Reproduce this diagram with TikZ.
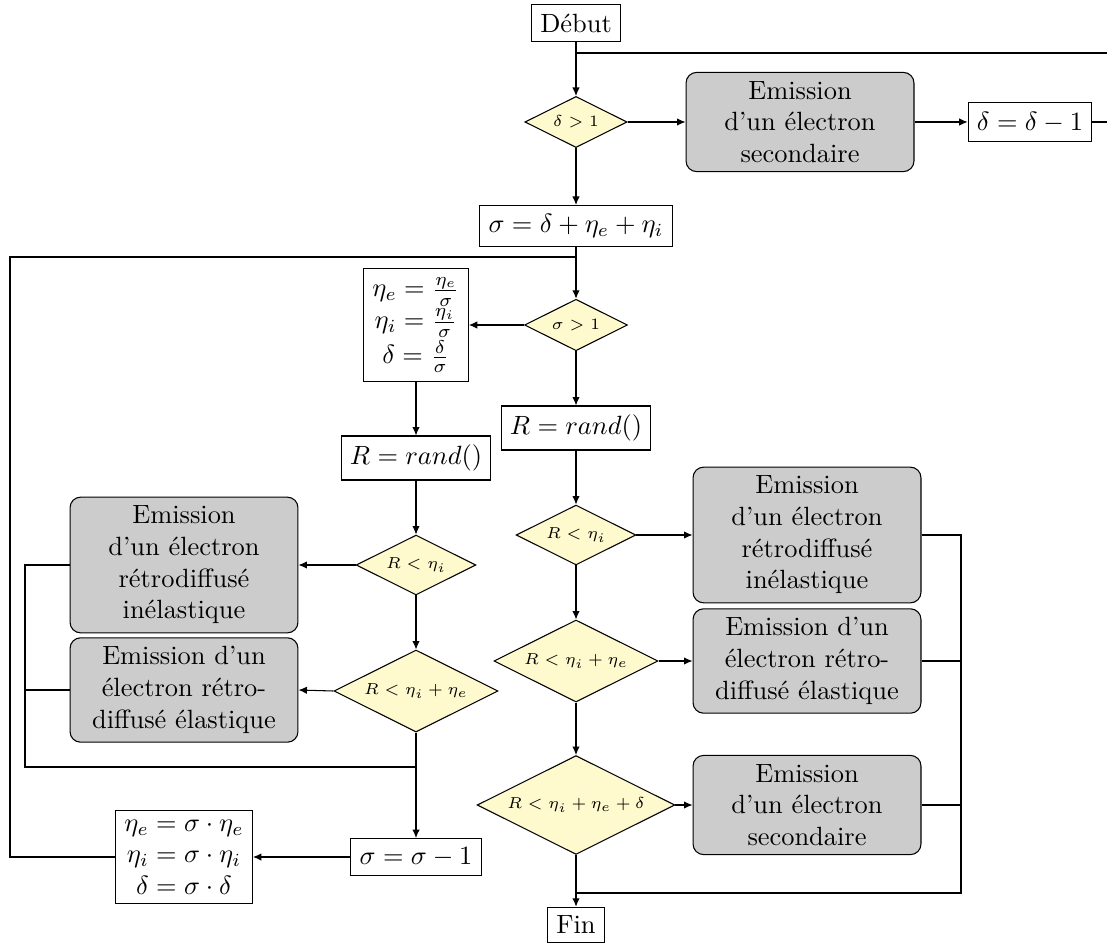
\documentclass[tikz,border=0pt]{standalone}
\usepackage{fontspec}
\usepackage{amsmath}
\usetikzlibrary{arrows.meta,shapes.geometric}
\definecolor{testfill}{RGB}{255,250,205}

\begin{document}
\begin{tikzpicture}[x=0.3788pt,y=-0.3788pt,
  block/.style={draw,align=center,fill=white},
  emission/.style={draw,rounded corners,fill=black!20,align=center,
    text width=2.8cm},
  test/.style={diamond,draw,aspect=2,fill=testfill,inner sep=2pt,
    font=\fontsize{6}{7}\selectfont},
  flow/.style={-{Latex[length=3.2pt,width=2.8pt]}}
]
\useasboundingbox (0,0) rectangle (1107,947);
\node[block] (debut) at (576,23) {Début};
\node[test] (dgt) at (576,122) {$\delta>1$};
\node[emission] (emisA) at (800,122) {Emission\\d'un électron\\secondaire};
\node[block] (ddec) at (1030,122) {$\delta=\delta-1$};
\node[block] (sigma) at (576,226) {$\sigma=\delta+\eta_e+\eta_i$};
\node[test] (sgt) at (576,325) {$\sigma>1$};
\node[block] (norm) at (416,325) {$\eta_e=\frac{\eta_e}{\sigma}$\\
  $\eta_i=\frac{\eta_i}{\sigma}$\\$\delta=\frac{\delta}{\sigma}$};
\node[block] (randR) at (576,428) {$R=rand()$};
\node[block] (randL) at (416,458) {$R=rand()$};

\node[test] (ciR) at (576,535) {$R<\eta_i$};
\node[emission] (emisB) at (807,535) {Emission\\d'un électron\\
  rétrodiffusé\\inélastique};
\node[test] (ceR) at (576,661) {$R<\eta_i+\eta_e$};
\node[emission] (emisC) at (807,661) {Emission d'un\\électron rétro-\\
  diffusé élastique};
\node[test] (cdR) at (576,805) {$R<\eta_i+\eta_e+\delta$};
\node[emission] (emisD) at (807,805) {Emission\\d'un électron\\secondaire};
\node[block] (fin) at (576,925) {Fin};

\node[test] (ciL) at (416,565) {$R<\eta_i$};
\node[emission] (emisE) at (184,565) {Emission\\d'un électron\\
  rétrodiffusé\\inélastique};
\node[test] (ceL) at (416,691) {$R<\eta_i+\eta_e$};
\node[emission] (emisF) at (184,690) {Emission d'un\\électron rétro-\\
  diffusé élastique};
\node[block] (sdec) at (416,857) {$\sigma=\sigma-1$};
\node[block] (mult) at (184,857) {$\eta_e=\sigma\cdot\eta_e$\\
  $\eta_i=\sigma\cdot\eta_i$\\$\delta=\sigma\cdot\delta$};

\coordinate (topR) at (1115,53);
\coordinate (loopL) at (10,257);
\coordinate (botR) at (961,893);
\coordinate (botL) at (25,767);

\draw[flow] (debut.south) -- (dgt.north);
\draw[flow] (dgt.east) -- (emisA.west);
\draw[flow] (emisA.east) -- (ddec.west);
\draw (ddec.east) -| (topR) -- (debut.south |- topR);
\draw[flow] (dgt.south) -- (sigma.north);
\draw[flow] (sigma.south) -- (sgt.north);
\draw[flow] (sgt.west) -- (norm.east);
\draw[flow] (sgt.south) -- (randR.north);
\draw[flow] (norm.south) -- (randL.north);

\draw[flow] (randR.south) -- (ciR.north);
\draw[flow] (ciR.east) -- (emisB.west);
\draw[flow] (ciR.south) -- (ceR.north);
\draw[flow] (ceR.east) -- (emisC.west);
\draw[flow] (ceR.south) -- (cdR.north);
\draw[flow] (cdR.east) -- (emisD.west);
\draw[flow] (cdR.south) -- (fin.north);
\draw (emisB.east) -| (botR) -- (fin.north |- botR);
\draw (emisC.east) -- (emisC.east -| botR);
\draw (emisD.east) -- (emisD.east -| botR);

\draw[flow] (randL.south) -- (ciL.north);
\draw[flow] (ciL.west) -- (emisE.east);
\draw[flow] (ciL.south) -- (ceL.north);
\draw[flow] (ceL.west) -- (emisF.east);
\draw[flow] (ceL.south) -- (sdec.north);
\draw (emisE.west) -| (botL) -- (sdec.north |- botL);
\draw (emisF.west) -- (emisF.west -| botL);
\draw[flow] (sdec.west) -- (mult.east);
\draw (mult.west) -| (loopL) -- (sigma.south |- loopL);
\end{tikzpicture}
\end{document}
